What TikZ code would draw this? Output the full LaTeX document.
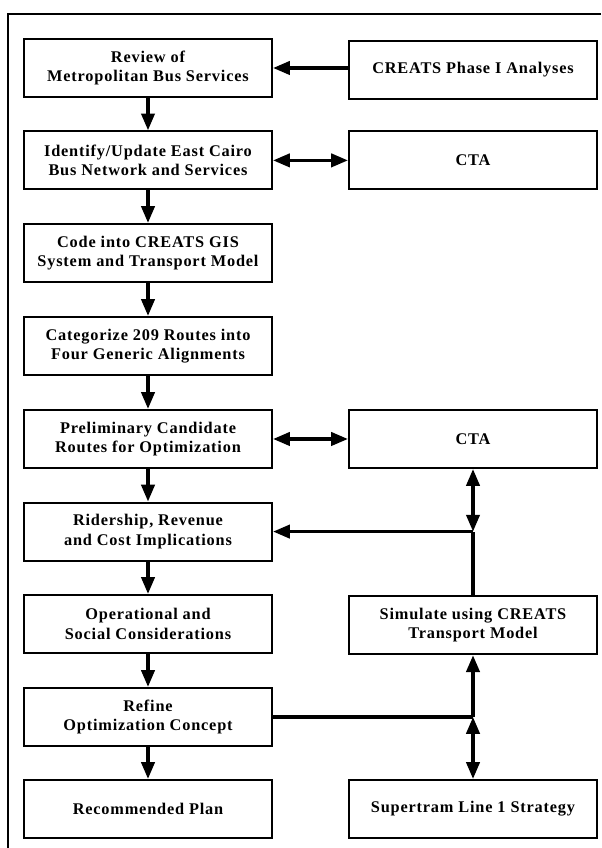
\documentclass[tikz,border=0pt]{standalone}
\usepackage{fontspec}
\setmainfont{Liberation Serif}[LetterSpace=5]
\usetikzlibrary{arrows.meta}

\tikzset{
  stage/.style={rectangle,draw,line width=1.5pt,minimum width=6.2cm,minimum height=1.45cm,
    align=center,font=\fontsize{11.6}{13.7}\selectfont\bfseries},
  link/.style={line width=2.4pt},
  >={Triangle[length=4.2mm,width=3.3mm]}
}

\begin{document}
\begin{tikzpicture}
\useasboundingbox (0,0) rectangle (15.025,21.2);
\draw [line width=1.3pt] (15.025,20.85) -- (0.2,20.85) -- (0.2,0);

\node (L1) at (3.7,19.5) [stage] {Review of\\Metropolitan Bus Services};
\node (L2) at (3.7,17.19) [stage] {Identify/Update East Cairo\\Bus Network and Services};
\node (L3) at (3.7,14.875) [stage] {Code into CREATS GIS\\System and Transport Model};
\node (L4) at (3.7,12.55) [stage] {Categorize 209 Routes into\\Four Generic Alignments};
\node (L5) at (3.7,10.225) [stage] {Preliminary Candidate\\Routes for Optimization};
\node (L6) at (3.7,7.91) [stage] {Ridership, Revenue\\and Cost Implications};
\node (L7) at (3.7,5.6) [stage] {Operational and\\Social Considerations};
\node (L8) at (3.7,3.275) [stage] {Refine\\Optimization Concept};
\node (L9) at (3.7,0.975) [stage] {Recommended Plan};

\node (R1) at (11.825,19.45) [stage] {CREATS Phase I Analyses};
\node (R2) at (11.825,17.19) [stage] {CTA};
\node (R5) at (11.825,10.225) [stage] {CTA};
\node (R7) at (11.825,5.57) [stage] {Simulate using CREATS\\Transport Model};
\node (R9) at (11.825,0.975) [stage] {Supertram Line 1 Strategy};

\coordinate (J6) at (R7 |- L6);
\coordinate (J8) at (R7 |- L8);

\foreach \a/\b in {L1/L2,L2/L3,L3/L4,L4/L5,L5/L6,L6/L7,L7/L8,L8/L9}
  \draw [link,->] (\a) -- (\b);

\draw [link,->] (R1.west |- L1) -- (L1.east);
\draw [link,<->] (L2) -- (R2);
\draw [link,<->] (L5) -- (R5);

\draw [link,<->] (R5) -- (J6);
\draw [link,->] (J6) -- (L6);
\draw [link] (R7) -- (J6);

\draw [link] (L8) -- (J8);
\draw [link,->] (J8) -- (R7);
\draw [link,<->] (J8) -- (R9);
\end{tikzpicture}
\end{document}
